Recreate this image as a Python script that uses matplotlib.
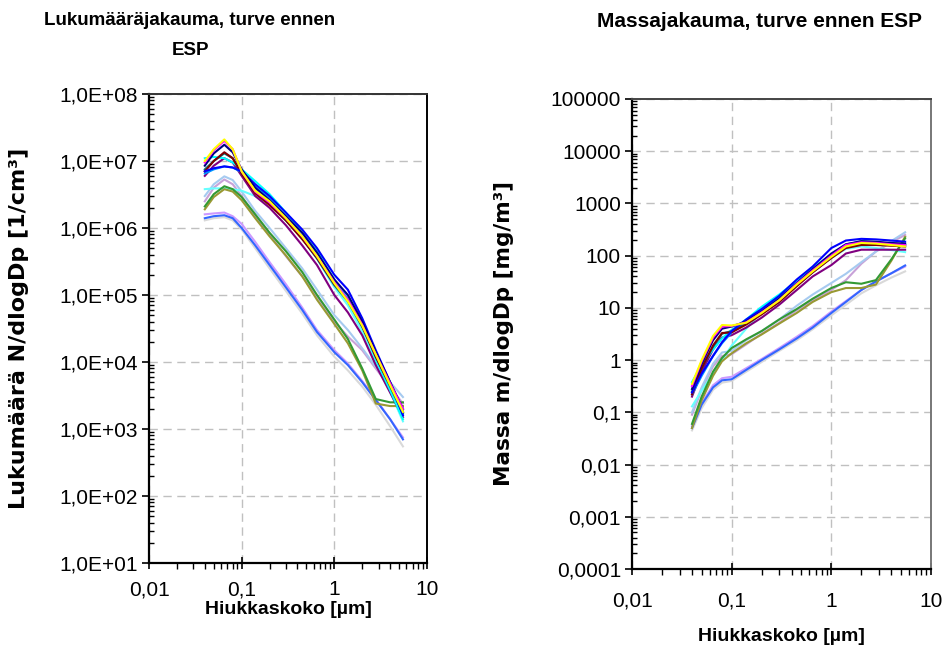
import matplotlib
matplotlib.use('Agg')
from matplotlib import pyplot as plt
from matplotlib.ticker import LogLocator, NullFormatter

# particle size [um]
size_um = [0.04, 0.05, 0.065, 0.08, 0.1, 0.14, 0.2, 0.3, 0.45, 0.65, 1.0, 1.4, 2.0, 2.8, 4.0, 5.5]

# number distributions N/dlogDp [1/cm3]
n_gray = [1.3e6, 1.4e6, 1.45e6, 1.3e6, 9.5e5, 5.0e5, 2.5e5, 1.15e5, 5.3e4, 2.5e4, 1.2e4, 7.5e3, 4.3e3, 2.3e3, 1.1e3, 5.5e2]
n_lavender = [1.6e6, 1.65e6, 1.7e6, 1.5e6, 1.15e6, 6.2e5, 3.1e5, 1.45e5, 6.5e4, 3.0e4, 1.5e4, 9.5e3, 5.2e3, 2.8e3, 1.4e3, 7.5e2]
n_royal = [1.4e6, 1.5e6, 1.55e6, 1.4e6, 1.0e6, 5.5e5, 2.8e5, 1.3e5, 6.0e4, 2.8e4, 1.4e4, 9.0e3, 5.0e3, 2.7e3, 1.4e3, 7.0e2]
n_plum = [2.5e6, 4.0e6, 5.3e6, 4.5e6, 3.0e6, 1.5e6, 8.0e5, 3.8e5, 1.9e5, 9.5e4, 4.0e4, 2.4e4, 1.5e4, 8.0e3, 4.2e3, 2.4e3]
n_pale = [3.0e6, 4.5e6, 5.9e6, 5.2e6, 3.5e6, 1.8e6, 1.0e6, 5.0e5, 2.5e5, 1.2e5, 5.0e4, 3.0e4, 1.6e4, 8.5e3, 5.0e3, 3.0e3]
n_turq = [3.8e6, 3.9e6, 3.9e6, 3.8e6, 3.6e6, 3.0e6, 2.3e6, 1.3e6, 7.0e5, 3.5e5, 1.3e5, 7.0e4, 2.8e4, 1.0e4, 3.6e3, 1.3e3]
n_olive = [1.9e6, 2.9e6, 3.8e6, 3.5e6, 2.6e6, 1.4e6, 7.5e5, 3.9e5, 1.9e5, 8.5e4, 3.7e4, 1.9e4, 7.5e3, 2.4e3, 2.2e3, 2.2e3]
n_green = [2.1e6, 3.2e6, 4.2e6, 3.8e6, 2.9e6, 1.6e6, 8.5e5, 4.5e5, 2.2e5, 1.0e5, 4.3e4, 2.2e4, 8.0e3, 2.8e3, 2.5e3, 2.5e3]
n_purple = [6.0e6, 8.5e6, 1.1e7, 9.5e6, 6.0e6, 3.0e6, 2.0e6, 1.1e6, 5.5e5, 2.8e5, 1.0e5, 5.5e4, 2.5e4, 9.0e3, 3.5e3, 1.5e3]
n_sky = [6.5e6, 7.5e6, 8.3e6, 8.0e6, 6.8e6, 4.3e6, 2.8e6, 1.5e6, 8.0e5, 4.2e5, 1.6e5, 9.5e4, 4.0e4, 1.3e4, 4.5e3, 1.8e3]
n_cyan = [1.1e7, 1.15e7, 1.1e7, 9.5e6, 7.5e6, 5.0e6, 3.2e6, 1.7e6, 8.5e5, 4.5e5, 1.7e5, 9.0e4, 3.5e4, 1.1e4, 3.8e3, 1.4e3]
n_teal = [7.5e6, 1.0e7, 1.3e7, 1.1e7, 6.5e6, 3.6e6, 2.3e6, 1.3e6, 7.0e5, 3.5e5, 1.4e5, 8.0e4, 3.3e4, 1.2e4, 4.3e3, 1.7e3]
n_maroon = [7.0e6, 1.0e7, 1.35e7, 1.1e7, 6.5e6, 3.3e6, 2.2e6, 1.3e6, 6.8e5, 3.6e5, 1.45e5, 8.5e4, 3.5e4, 1.2e4, 4.5e3, 1.8e3]
n_blue = [7.0e6, 7.8e6, 8.3e6, 8.0e6, 7.0e6, 4.5e6, 3.0e6, 1.7e6, 9.5e5, 5.0e5, 2.0e5, 1.2e5, 4.5e4, 1.5e4, 5.0e3, 1.6e3]
n_navy = [8.5e6, 1.3e7, 1.75e7, 1.35e7, 7.5e6, 4.0e6, 2.6e6, 1.5e6, 8.5e5, 4.3e5, 1.7e5, 1.0e5, 4.0e4, 1.4e4, 5.0e3, 2.0e3]
n_magenta = [9.5e6, 1.45e7, 2.0e7, 1.5e7, 7.0e6, 3.5e6, 2.4e6, 1.4e6, 7.5e5, 3.8e5, 1.55e5, 8.5e4, 3.6e4, 1.3e4, 4.8e3, 2.0e3]
n_yellow = [1.0e7, 1.5e7, 2.1e7, 1.5e7, 7.0e6, 3.6e6, 2.5e6, 1.4e6, 7.5e5, 3.8e5, 1.5e5, 8.0e4, 3.5e4, 1.3e4, 4.5e3, 1.8e3]

# mass distributions m/dlogDp [mg/m3]
m_gray = [0.045, 0.12, 0.27, 0.37, 0.4, 0.6, 0.92, 1.5, 2.4, 3.9, 7.2, 11.5, 19, 27, 38, 50]
m_lavender = [0.055, 0.15, 0.33, 0.45, 0.48, 0.7, 1.05, 1.7, 2.8, 4.5, 8.5, 13.5, 22, 32, 46, 62]
m_royal = [0.05, 0.14, 0.3, 0.41, 0.43, 0.65, 1.0, 1.6, 2.6, 4.2, 8.0, 13, 22, 32, 46, 65]
m_plum = [0.09, 0.27, 0.76, 1.2, 1.3, 2.0, 3.2, 5.2, 9.0, 14, 22, 34, 70, 120, 180, 250]
m_pale = [0.1, 0.3, 0.85, 1.4, 1.5, 2.4, 3.6, 6.0, 11, 18, 30, 45, 75, 120, 190, 280]
m_turq = [0.13, 0.26, 0.56, 1.0, 1.9, 4.0, 8.5, 16, 30, 52, 90, 135, 150, 140, 128, 117]
m_olive = [0.05, 0.17, 0.5, 0.95, 1.35, 2.1, 3.1, 5.0, 8.0, 13, 20, 24, 24, 28, 80, 230]
m_green = [0.06, 0.2, 0.6, 1.1, 1.7, 2.5, 3.6, 6.0, 9.5, 15, 24, 31, 29, 34, 85, 215]
m_purple = [0.2, 0.6, 1.6, 2.7, 3.0, 4.2, 6.5, 11.5, 22, 40, 66, 110, 130, 130, 130, 130]
m_sky = [0.22, 0.5, 1.2, 2.1, 3.4, 5.8, 9.0, 16, 31, 56, 105, 165, 185, 180, 170, 165]
m_cyan = [0.38, 0.8, 1.6, 2.6, 3.8, 6.0, 10.5, 18, 33, 58, 105, 160, 190, 180, 165, 150]
m_teal = [0.25, 0.7, 1.8, 3.2, 3.6, 5.0, 7.8, 13, 27, 48, 92, 145, 170, 170, 165, 160]
m_maroon = [0.22, 0.7, 1.9, 3.3, 3.4, 4.8, 7.5, 13, 26, 48, 90, 140, 160, 160, 155, 150]
m_blue = [0.24, 0.55, 1.2, 2.2, 3.6, 6.0, 9.5, 17, 35, 62, 140, 195, 210, 205, 195, 185]
m_navy = [0.28, 0.85, 2.4, 4.0, 4.4, 5.5, 8.5, 15, 30, 55, 110, 165, 190, 185, 175, 170]
m_magenta = [0.32, 0.95, 2.7, 4.4, 4.5, 5.3, 8.2, 14, 29, 52, 100, 160, 180, 175, 165, 160]
m_yellow = [0.35, 1.0, 2.9, 4.7, 4.6, 5.2, 8.0, 14, 28, 50, 95, 150, 175, 170, 160, 150]

series = [
    ('#D9D9D9', n_gray, m_gray),
    ('#CC99FF', n_lavender, m_lavender),
    ('#3366FF', n_royal, m_royal),
    ('#C8A2D8', n_plum, m_plum),
    ('#A6CAF0', n_pale, m_pale),
    ('#66FFFF', n_turq, m_turq),
    ('#999933', n_olive, m_olive),
    ('#339933', n_green, m_green),
    ('#800080', n_purple, m_purple),
    ('#0099FF', n_sky, m_sky),
    ('#00FFFF', n_cyan, m_cyan),
    ('#008080', n_teal, m_teal),
    ('#800000', n_maroon, m_maroon),
    ('#0000FF', n_blue, m_blue),
    ('#000080', n_navy, m_navy),
    ('#FF00FF', n_magenta, m_magenta),
    ('#FFFF00', n_yellow, m_yellow),
]

x_ticks = [0.01, 0.1, 1, 10]
x_ticklabels = ['0,01', '0,1', '1', '10']
n_ticks = [1e1, 1e2, 1e3, 1e4, 1e5, 1e6, 1e7, 1e8]
n_ticklabels = ['1,0E+01', '1,0E+02', '1,0E+03', '1,0E+04', '1,0E+05', '1,0E+06', '1,0E+07', '1,0E+08']
m_ticks = [1e-4, 1e-3, 1e-2, 1e-1, 1, 10, 100, 1000, 10000, 100000]
m_ticklabels = ['0,0001', '0,001', '0,01', '0,1', '1', '10', '100', '1000', '10000', '100000']

fig = plt.figure(figsize=(9.46, 6.52), dpi=100)
ax1 = fig.add_axes([149 / 946, 1 - 563 / 652, 278 / 946, 469 / 652])
ax2 = fig.add_axes([632 / 946, 1 - 569 / 652, 299 / 946, 470 / 652])

lab_font = dict(family='Liberation Sans', weight='bold')
ylab_font = dict(family='DejaVu Sans', weight='bold')


def style_axis(ax, yticks, ylabels, ylim, xpad):
    ax.set_xscale('log')
    ax.set_yscale('log')
    ax.set_xlim(0.01, 10)
    ax.set_ylim(*ylim)
    ax.set_xticks(x_ticks, x_ticklabels)
    ax.set_yticks(yticks, ylabels)
    ax.xaxis.set_minor_locator(LogLocator(base=10, subs=range(2, 10), numticks=20))
    ax.yaxis.set_minor_locator(LogLocator(base=10, subs=range(2, 10), numticks=20))
    ax.xaxis.set_minor_formatter(NullFormatter())
    ax.yaxis.set_minor_formatter(NullFormatter())
    ax.tick_params(axis='x', which='major', direction='inout', length=9, width=1.2, pad=xpad)
    ax.tick_params(axis='x', which='minor', direction='out', length=4, width=1)
    ax.tick_params(axis='y', which='major', direction='out', length=5, width=1.2, pad=3)
    ax.tick_params(axis='y', which='minor', direction='in', length=3.5, width=1)
    for lbl in ax.get_xticklabels() + ax.get_yticklabels():
        lbl.set_family('Liberation Sans')
        lbl.set_fontsize(15)
    ax.grid(True, which='major', color='#C0C0C0', linestyle=(0, (6, 4)), linewidth=1)
    ax.set_axisbelow(True)
    for s in ['left', 'bottom']:
        ax.spines[s].set_linewidth(1.6)
        ax.spines[s].set_color('black')
    for s in ['top', 'right']:
        ax.spines[s].set_linewidth(1.4)


for color, n, m in series:
    ax1.plot(size_um, n, color=color, lw=1.5)
    ax2.plot(size_um, m, color=color, lw=1.5)

style_axis(ax1, n_ticks, n_ticklabels, (1e1, 1e8), 8)
style_axis(ax2, m_ticks, m_ticklabels, (1e-4, 1e5), 12)
ax1.spines['top'].set_color('#333333')
ax1.spines['right'].set_color('black')
ax2.spines['top'].set_color('#444444')
ax2.spines['right'].set_color('#777777')

ax1.set_xlabel('Hiukkaskoko [µm]', fontsize=14, **lab_font)
ax1.xaxis.set_label_coords(0.5, -0.08)
ax1.set_ylabel('Lukumäärä N/dlogDp [1/cm³]', fontsize=16, **ylab_font)
ax1.yaxis.set_label_coords(-0.43, 0.5)

ax2.set_xlabel('Hiukkaskoko [µm]', fontsize=14, **lab_font)
ax2.xaxis.set_label_coords(0.5, -0.125)
ax2.set_ylabel('Massa m/dlogDp [mg/m³]', fontsize=15.5, **ylab_font)
ax2.yaxis.set_label_coords(-0.395, 0.5)

fig.text(190 / 946, 1 - 12 / 652, 'Lukumääräjakauma, turve ennen\nESP', ha='center', va='top',
         fontsize=13.5, linespacing=2.0, **lab_font)
fig.text(759 / 946, 1 - 12 / 652, 'Massajakauma, turve ennen ESP', ha='center', va='top',
         fontsize=15, **lab_font)

fig.savefig('out.png', dpi=100)
